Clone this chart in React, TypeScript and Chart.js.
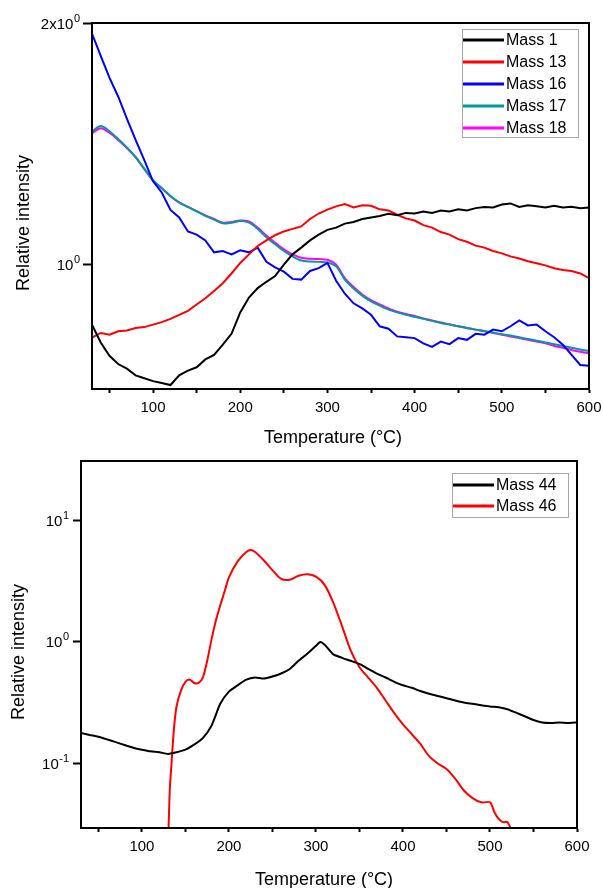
import { useEffect, useRef } from 'react';
import { Chart, registerables } from 'chart.js';

Chart.register(...registerables);

const FONT = "'Liberation Sans', Arial, Helvetica, sans-serif";

// ---------- Top panel data ----------
const topTemperature = [
  30, 40, 50, 60, 70, 80, 90, 100,
  110, 120, 130, 140, 150, 160, 170, 180, 190, 200,
  210, 220, 230, 240, 250, 260, 270, 280, 290, 300,
  310, 320, 330, 340, 350, 360, 370, 380, 390, 400,
  410, 420, 430, 440, 450, 460, 470, 480, 490, 500,
  510, 520, 530, 540, 550, 560, 570, 580, 590, 600,
];
const mass1 = [
  0.842, 0.8, 0.77, 0.752, 0.742, 0.728, 0.722, 0.716,
  0.712, 0.708, 0.728, 0.738, 0.745, 0.762, 0.772, 0.795, 0.82, 0.872,
  0.91, 0.935, 0.952, 0.968, 1.0, 1.03, 1.05, 1.072, 1.09, 1.105,
  1.112, 1.125, 1.13, 1.14, 1.145, 1.15, 1.157, 1.152, 1.16, 1.158,
  1.165, 1.16, 1.168, 1.165, 1.172, 1.168, 1.176, 1.18, 1.178, 1.188,
  1.192, 1.18, 1.186, 1.182, 1.178, 1.184, 1.178, 1.181, 1.176, 1.178,
];
const mass13 = [
  0.811, 0.822, 0.818, 0.826, 0.828, 0.834, 0.836, 0.842,
  0.848, 0.856, 0.866, 0.876, 0.892, 0.908, 0.927, 0.948, 0.975, 1.005,
  1.03, 1.055, 1.072, 1.088, 1.1, 1.108, 1.116, 1.14, 1.158, 1.171,
  1.182, 1.19, 1.178, 1.186, 1.184, 1.172, 1.168, 1.154, 1.142, 1.135,
  1.12, 1.112, 1.098, 1.09, 1.076, 1.068, 1.056, 1.05, 1.04, 1.033,
  1.024, 1.018, 1.01, 1.004, 0.998, 0.99, 0.985, 0.982, 0.975, 0.962,
];
const mass16 = [
  1.94, 1.82, 1.71, 1.62, 1.52, 1.43, 1.35, 1.27,
  1.23, 1.17, 1.145, 1.1, 1.09, 1.072, 1.036, 1.04, 1.03, 1.042,
  1.036, 1.05, 1.008, 0.992, 0.98, 0.96, 0.958, 0.982, 0.99, 1.005,
  0.955, 0.92, 0.895, 0.882, 0.866, 0.838, 0.832, 0.814, 0.812, 0.81,
  0.798, 0.79, 0.802, 0.796, 0.81, 0.806, 0.82, 0.818, 0.83, 0.826,
  0.838, 0.852, 0.84, 0.842, 0.826, 0.812, 0.795, 0.772, 0.75, 0.748,
];
const mass17 = [
  1.465, 1.488, 1.466, 1.434, 1.4, 1.362, 1.317, 1.274,
  1.246, 1.218, 1.196, 1.18, 1.165, 1.15, 1.138, 1.126, 1.128, 1.133,
  1.128, 1.108, 1.082, 1.06, 1.04, 1.024, 1.012, 1.009, 1.008, 1.006,
  0.995, 0.958, 0.934, 0.915, 0.9, 0.889, 0.879, 0.872, 0.866, 0.861,
  0.856, 0.851, 0.846, 0.842, 0.838, 0.834, 0.83, 0.827, 0.823, 0.819,
  0.816, 0.812, 0.808, 0.804, 0.8, 0.796, 0.792, 0.788, 0.784, 0.781,
];
const mass18 = [
  1.458, 1.479, 1.46, 1.43, 1.397, 1.36, 1.315, 1.272,
  1.245, 1.217, 1.195, 1.18, 1.166, 1.152, 1.14, 1.128, 1.13, 1.135,
  1.132, 1.112, 1.087, 1.065, 1.045, 1.03, 1.02, 1.017, 1.016, 1.014,
  1.0, 0.962, 0.938, 0.918, 0.903, 0.892, 0.882, 0.874, 0.868, 0.863,
  0.857, 0.852, 0.847, 0.843, 0.838, 0.834, 0.83, 0.826, 0.822, 0.818,
  0.814, 0.81, 0.806, 0.802, 0.798, 0.792, 0.788, 0.783, 0.779, 0.776,
];
const topLabels = ['Mass 1', 'Mass 13', 'Mass 16', 'Mass 17', 'Mass 18'];
const topColors = ['#000000', '#ff0000', '#0000ff', '#009a9a', '#ff00ff'];
const topYTicks = [1, 2];
const topYTickBases = ['10', '2x10'];
const topYTickExponents = ['0', '0'];

// ---------- Bottom panel data ----------
const mass44Temperature = [
  30, 40, 50, 60, 70, 80, 90, 100,
  110, 120, 130, 140, 150, 160, 170, 180, 190, 200,
  210, 220, 230, 240, 250, 260, 270, 280, 290, 300, 305,
  310, 320, 330, 340, 350, 360, 370, 380, 390, 400,
  410, 420, 430, 440, 450, 460, 470, 480, 490, 500,
  510, 520, 530, 540, 550, 560, 570, 580, 590, 600,
];
const mass44 = [
  0.178, 0.172, 0.166, 0.158, 0.15, 0.142, 0.135, 0.13,
  0.126, 0.124, 0.12, 0.124, 0.13, 0.143, 0.162, 0.205, 0.31, 0.39,
  0.44, 0.49, 0.51, 0.5, 0.52, 0.55, 0.6, 0.7, 0.8, 0.93, 1.0,
  0.95, 0.79, 0.74, 0.7, 0.66, 0.6, 0.55, 0.51, 0.47, 0.44,
  0.42, 0.395, 0.375, 0.36, 0.345, 0.33, 0.318, 0.31, 0.302, 0.295,
  0.29, 0.28, 0.262, 0.245, 0.228, 0.218, 0.216, 0.218, 0.216, 0.218,
];
const mass46Temperature = [
  130, 132, 134, 137, 140, 145, 150, 155, 160, 165, 170, 175, 180, 185, 190, 195, 200,
  210, 220, 225, 230, 240, 250, 260, 270, 280, 290, 300,
  310, 320, 330, 340, 350, 360, 370, 380, 390, 400,
  410, 420, 430, 440, 450, 460, 470, 480, 490, 500, 505, 510, 515, 520, 525,
];
const mass46 = [
  0.02, 0.06, 0.1, 0.2, 0.3, 0.4, 0.47, 0.49, 0.46, 0.46, 0.51, 0.7, 1.05, 1.5, 2.0, 2.6, 3.4,
  4.6, 5.5, 5.7, 5.5, 4.7, 3.9, 3.3, 3.25, 3.5, 3.6, 3.45,
  2.95, 2.1, 1.35, 0.85, 0.62, 0.51, 0.42, 0.33, 0.26, 0.21,
  0.175, 0.145, 0.115, 0.1, 0.09, 0.075, 0.06, 0.052, 0.048, 0.048, 0.04, 0.035, 0.033, 0.033, 0.028,
];
const bottomLabels = ['Mass 44', 'Mass 46'];
const bottomColors = ['#000000', '#ff0000'];
const bottomYTicks = [0.1, 1, 10];
const bottomYTickBases = ['10', '10', '10'];
const bottomYTickExponents = ['-1', '0', '1'];

const X_TITLE = 'Temperature (\u00B0C)';
const Y_TITLE = 'Relative intensity';

// ---------- plugins ----------
const framePlugin = {
  id: 'frame',
  afterDraw(chart: any) {
    const { ctx, chartArea: a } = chart;
    ctx.save();
    ctx.strokeStyle = '#000';
    ctx.lineWidth = 2;
    ctx.strokeRect(a.left, a.top, a.right - a.left, a.bottom - a.top);
    ctx.restore();
  },
};

// y tick labels with true superscript exponents
const powerLabelsPlugin = {
  id: 'powerLabels',
  afterDraw(chart: any, _args: any, o: any) {
    if (!o || !o.values) return;
    const { ctx } = chart;
    const scale = chart.scales.y;
    const right = chart.chartArea.left - o.offset;
    ctx.save();
    ctx.fillStyle = '#000';
    ctx.textAlign = 'left';
    ctx.textBaseline = 'alphabetic';
    o.values.forEach((v: number, i: number) => {
      const py = scale.getPixelForValue(v);
      ctx.font = `11px ${FONT}`;
      const we = ctx.measureText(o.exponents[i]).width;
      ctx.font = `15px ${FONT}`;
      const wb = ctx.measureText(o.bases[i]).width;
      const baseY = py + 5.5;
      ctx.fillText(o.bases[i], right - we - wb - 0.5, baseY);
      ctx.font = `11px ${FONT}`;
      ctx.fillText(o.exponents[i], right - we, baseY - 7);
    });
    ctx.restore();
  },
};

const boxLegendPlugin = {
  id: 'boxLegend',
  afterDraw(chart: any, _args: any, o: any) {
    if (!o || o.x === undefined) return;
    const { ctx } = chart;
    ctx.save();
    ctx.fillStyle = '#ffffff';
    ctx.fillRect(o.x, o.y, o.w, o.h);
    ctx.strokeStyle = '#a8a8a8';
    ctx.lineWidth = 1;
    ctx.strokeRect(o.x + 0.5, o.y + 0.5, o.w, o.h);
    chart.data.datasets.forEach((ds: any, i: number) => {
      const cy = o.y + o.firstRow + i * o.rowGap;
      ctx.strokeStyle = ds.borderColor;
      ctx.lineWidth = 3;
      ctx.beginPath();
      ctx.moveTo(o.x + 1, cy);
      ctx.lineTo(o.x + o.lineLen, cy);
      ctx.stroke();
      ctx.fillStyle = '#000';
      ctx.font = `16px ${FONT}`;
      ctx.textBaseline = 'middle';
      ctx.textAlign = 'left';
      ctx.fillText(ds.label, o.x + o.lineLen + 2, cy + 1);
    });
    ctx.restore();
  },
};

const axisTitlesPlugin = {
  id: 'axisTitles',
  afterDraw(chart: any, _args: any, o: any) {
    if (!o || !o.x) return;
    const { ctx } = chart;
    ctx.save();
    ctx.fillStyle = '#000';
    ctx.font = `18px ${FONT}`;
    ctx.textAlign = 'center';
    ctx.textBaseline = 'middle';
    ctx.fillText(o.x.text, o.x.cx, o.x.cy);
    ctx.translate(o.y.cx, o.y.cy);
    ctx.rotate(-Math.PI / 2);
    ctx.fillText(o.y.text, 0, 0);
    ctx.restore();
  },
};

Chart.register(framePlugin, powerLabelsPlugin, boxLegendPlugin, axisTitlesPlugin);

function buildOptions(cfg: any) {
  return {
    responsive: false,
    animation: false,
    layout: { padding: cfg.padding },
    elements: { point: { radius: 0 }, line: { borderWidth: 2 } },
    plugins: {
      legend: { display: false },
      tooltip: { enabled: false },
      boxLegend: cfg.legend,
      axisTitles: cfg.titles,
      powerLabels: {
        values: cfg.yTicks,
        bases: cfg.yBases,
        exponents: cfg.yExponents,
        offset: cfg.yTickLen + cfg.yTickPad,
      },
    },
    scales: {
      x: {
        type: 'linear',
        min: 30,
        max: 600,
        afterFit: (s: any) => {
          s.height = cfg.xHeight;
          s.paddingLeft = 0;
          s.paddingRight = 0;
        },
        ticks: {
          stepSize: 50,
          includeBounds: false,
          autoSkip: false,
          maxRotation: 0,
          padding: 6,
          color: '#000',
          font: { family: FONT, size: 15 },
          callback: (v: any) => (Number(v) % 100 === 0 ? String(v) : ''),
        },
        grid: {
          drawOnChartArea: false,
          drawTicks: true,
          tickLength: 4,
          tickWidth: 2,
          tickColor: '#000',
          color: '#000',
        },
        border: { display: true, color: '#000', width: 2 },
      },
      y: {
        type: 'logarithmic',
        min: cfg.yMin,
        max: cfg.yMax,
        afterFit: (s: any) => {
          s.width = cfg.yWidth;
          s.paddingTop = 0;
          s.paddingBottom = 0;
        },
        afterBuildTicks: (s: any) => {
          s.ticks = cfg.yTicks.map((v: number) => ({ value: v }));
        },
        ticks: {
          color: '#000',
          font: { family: FONT, size: 15 },
          callback: () => '',
        },
        grid: {
          drawOnChartArea: false,
          drawTicks: true,
          tickLength: cfg.yTickLen,
          tickWidth: 2,
          tickColor: '#000',
          color: '#000',
        },
        border: { display: true, color: '#000', width: 2 },
      },
    },
  };
}

function toPoints(xs: number[], ys: number[]) {
  return xs.map((x, i) => ({ x, y: ys[i] }));
}

function TopChart() {
  const ref = useRef<HTMLCanvasElement>(null);
  useEffect(() => {
    if (!ref.current) return;
    const series = [mass1, mass13, mass16, mass17, mass18];
    const smooth = [0, 0, 0, 0.3, 0.3];
    const chart = new Chart(ref.current, {
      type: 'line',
      data: {
        datasets: series.map((s, i) => ({
          label: topLabels[i],
          data: toPoints(topTemperature, s),
          borderColor: topColors[i],
          backgroundColor: topColors[i],
          borderWidth: 2,
          pointRadius: 0,
          tension: smooth[i],
          fill: false,
        })),
      },
      options: buildOptions({
        padding: { left: 0, right: 14, top: 23, bottom: 0 },
        xHeight: 61,
        yWidth: 92,
        yMin: 0.7,
        yMax: 2,
        yTicks: topYTicks,
        yBases: topYTickBases,
        yExponents: topYTickExponents,
        yTickLen: 9,
        yTickPad: 3,
        legend: { x: 462, y: 29, w: 116, h: 108, firstRow: 11, rowGap: 22, lineLen: 42 },
        titles: {
          x: { text: X_TITLE, cx: 333, cy: 438 },
          y: { text: Y_TITLE, cx: 24, cy: 223 },
        },
      }) as any,
    });
    return () => chart.destroy();
  }, []);
  return <canvas ref={ref} width={603} height={450} style={{ display: 'block' }} />;
}

function BottomChart() {
  const ref = useRef<HTMLCanvasElement>(null);
  useEffect(() => {
    if (!ref.current) return;
    const chart = new Chart(ref.current, {
      type: 'line',
      data: {
        datasets: [
          {
            label: bottomLabels[0],
            data: toPoints(mass44Temperature, mass44),
            borderColor: bottomColors[0],
            backgroundColor: bottomColors[0],
            borderWidth: 2,
            pointRadius: 0,
            tension: 0.2,
            fill: false,
          },
          {
            label: bottomLabels[1],
            data: toPoints(mass46Temperature, mass46),
            borderColor: bottomColors[1],
            backgroundColor: bottomColors[1],
            borderWidth: 2,
            pointRadius: 0,
            tension: 0.3,
            fill: false,
          },
        ],
      },
      options: buildOptions({
        padding: { left: 0, right: 26, top: 11, bottom: 0 },
        xHeight: 60,
        yWidth: 81,
        yMin: 0.0295,
        yMax: 30.8,
        yTicks: bottomYTicks,
        yBases: bottomYTickBases,
        yExponents: bottomYTickExponents,
        yTickLen: 8,
        yTickPad: 4,
        legend: { x: 452, y: 23, w: 116, h: 44, firstRow: 12, rowGap: 21, lineLen: 42 },
        titles: {
          x: { text: X_TITLE, cx: 324, cy: 430 },
          y: { text: Y_TITLE, cx: 19, cy: 202 },
        },
      }) as any,
    });
    return () => chart.destroy();
  }, []);
  return <canvas ref={ref} width={603} height={438} style={{ display: 'block' }} />;
}

export default function App() {
  return (
    <div
      style={{
        position: 'absolute',
        left: 0,
        top: 0,
        width: 603,
        height: 888,
        background: '#ffffff',
      }}
    >
      <TopChart />
      <BottomChart />
    </div>
  );
}
